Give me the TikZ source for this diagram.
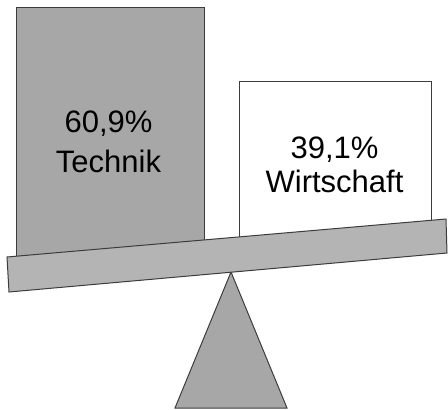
\documentclass[tikz,border=0pt]{standalone}
\usepackage{fontspec}
\setmainfont{Liberation Sans}
\usepackage{xcolor}
\usetikzlibrary{calc}

\definecolor{blockgray}{RGB}{167,167,167}
\definecolor{beamgray}{RGB}{180,180,180}
\definecolor{edgegray}{RGB}{60,60,60}

\begin{document}
\begin{tikzpicture}[x = 1pt, y = -1pt, line width = 1pt, font = \fontsize{31}{34}\selectfont]
			\useasboundingbox (0,0) rectangle (448,410);

			\coordinate (TechTL) at (16,7);
			\coordinate (TechBR) at (204,262);
			\coordinate (WirtTL) at (239,81);
			\coordinate (WirtBR) at (431,245);

			\coordinate (BeamTL) at (7,257);
			\coordinate (BeamTR) at (446,219);
			\coordinate (BeamBR) at (447,253);
			\coordinate (BeamBL) at (9,292);

			\coordinate (Apex) at (231,272);
			\coordinate (FootL) at (175,408);
			\coordinate (FootR) at (287,408);

			\begin{scope}
				\filldraw [fill = blockgray, draw = edgegray] (TechTL) rectangle (TechBR);
				\filldraw [fill = white, draw = edgegray] (WirtTL) rectangle (WirtBR);
				\filldraw [fill = blockgray, draw = edgegray] (Apex) to (FootL) to (FootR) to cycle;
			\end{scope}

			\filldraw [fill = beamgray, draw = edgegray] (BeamTL) to (BeamTR) to (BeamBR) to (BeamBL) to cycle;

			\begin{scope}
				\node [anchor = base] (TechPct) at (108.5,132) {60,9\%};
				\node [anchor = base] (TechName) at (108.5,172) {Technik};
				\node [anchor = base] (WirtPct) at (334.5,158) {39,1\%};
				\node [anchor = base] (WirtName) at (334.5,192) {Wirtschaft};
			\end{scope}
		\end{tikzpicture}
\end{document}
